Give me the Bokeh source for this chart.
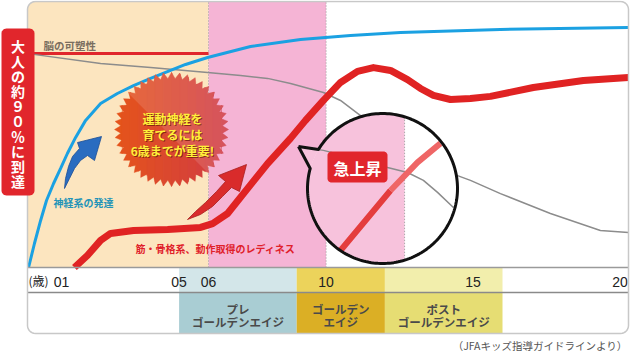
import numpy as np
from bokeh.plotting import figure
from bokeh.models import Range1d
from bokeh.core.properties import value
from bokeh.embed import file_html
from bokeh.resources import INLINE

# ---------------- data ----------------
# x: age in years, y: development level (adult level = 100)
neural_age = [-0.12, 0.08, 0.29, 0.49, 0.73, 0.97, 1.20, 1.48, 1.82, 2.33, 2.90, 3.45,
              4.03, 4.54, 5.22, 5.97, 7.43, 9.13, 10.83, 12.53, 15.93, 20.28]
neural_level = [0.0, 10.0, 19.6, 27.9, 35.0, 41.3, 47.5, 54.2, 61.3, 68.3, 72.5, 75.8,
                78.8, 81.3, 84.6, 87.5, 92.1, 95.0, 96.7, 97.9, 99.2, 100.0]

plasticity_age = [0.05, 2.33, 4.03, 5.97, 7.09, 8.01, 8.79, 9.91, 10.49, 11.07, 11.85,
                  12.87, 13.72, 14.47, 14.91, 15.93, 17.63, 19.33, 20.28]
plasticity_level = [88.8, 85.0, 83.3, 81.3, 80.0, 78.8, 76.7, 72.9, 69.6, 64.2, 57.1,
                    48.8, 42.5, 38.3, 36.3, 30.8, 22.5, 15.4, 14.6]

readiness_age = [1.44, 1.88, 2.33, 2.67, 3.45, 4.61, 5.73, 6.14, 6.65, 7.19, 8.01, 8.79,
                 9.30, 9.91, 10.49, 11.07, 11.61, 12.19, 12.77, 13.21, 13.65, 14.23,
                 14.91, 15.59, 17.05, 18.75, 20.28]
readiness_level = [0.0, 5.0, 11.3, 14.2, 15.4, 15.8, 16.7, 18.3, 22.5, 30.8, 43.3, 53.8,
                   61.3, 69.6, 77.1, 81.7, 83.3, 82.1, 78.3, 74.6, 71.7, 70.0,
                   70.4, 71.3, 75.0, 77.9, 79.2]

brain_ref_age = [-0.16, 6.0]
brain_ref_level = [89.2, 89.2]

# magnified view inside the bubble
zoom_red_low_age = [10.49, 11.34, 12.19]
zoom_red_low_level = [7.1, 19.6, 32.1]
zoom_red_high_age = [12.19, 13.11, 13.89]
zoom_red_high_level = [32.1, 43.8, 51.7]
zoom_gray_age = [9.23, 9.91, 11.00, 12.09, 12.77, 13.31, 13.79, 14.33]
zoom_gray_level = [50.0, 48.8, 45.4, 41.7, 39.6, 36.3, 31.3, 25.0]
zoom_divider_age = 12.67

tick_values = [1, 5, 6, 10, 15, 20]
tick_labels = ["01", "05", "06", "10", "15", "20"]

band_start = [-0.16, 6]
band_end = [6, 10]
band_colors = ["#FCE5BF", "#F5B4D5"]

phase_start = [5, 9, 12]
phase_end = [9, 12, 16]
phase_top_colors = ["#D3E6E9", "#ECD35B", "#F2EEAC"]
phase_colors = ["#A9CDD3", "#DBAF25", "#E6DD73"]
phase_line1 = ["プレ", "ゴールデン", "ポスト"]
phase_line2 = ["ゴールデンエイジ", "エイジ", "ゴールデンエイジ"]

# ---------------- scales ----------------
W, H = 630, 354
PX_YEAR = 29.4
PX_LEVEL = 2.4
X_PX0 = 31.6
Y_PX0 = 267.0
X0, X1 = -X_PX0 / PX_YEAR, (W - X_PX0) / PX_YEAR
Y0, Y1 = (Y_PX0 - H) / PX_LEVEL, Y_PX0 / PX_LEVEL


def dx(px):
    return [float(v) for v in (np.atleast_1d(np.asarray(px, float)) - X_PX0) / PX_YEAR]


def dy(py):
    return [float(v) for v in (Y_PX0 - np.atleast_1d(np.asarray(py, float))) / PX_LEVEL]


def sx(x):
    return X_PX0 + float(x) * PX_YEAR


def clip(px_, py_, a, b, c):
    ox, oy = [], []
    n = len(px_)
    for i in range(n):
        x1, y1 = px_[i - 1], py_[i - 1]
        x2, y2 = px_[i], py_[i]
        f1 = a * x1 + b * y1 + c
        f2 = a * x2 + b * y2 + c
        if f2 >= 0:
            if f1 < 0:
                t = f1 / (f1 - f2)
                ox.append(x1 + t * (x2 - x1)); oy.append(y1 + t * (y2 - y1))
            ox.append(x2); oy.append(y2)
        elif f1 >= 0:
            t = f1 / (f1 - f2)
            ox.append(x1 + t * (x2 - x1)); oy.append(y1 + t * (y2 - y1))
    return ox, oy


def rrect(x0, y0, x1, y1, r, corners=(1, 1, 1, 1)):
    xs, ys = [], []
    specs = [((x0 + r, y0 + r), np.pi, (x0, y0)),
             ((x1 - r, y0 + r), 1.5 * np.pi, (x1, y0)),
             ((x1 - r, y1 - r), 0.0, (x1, y1)),
             ((x0 + r, y1 - r), 0.5 * np.pi, (x0, y1))]
    for k, (c, a0, pt) in enumerate(specs):
        if corners[k]:
            a = np.linspace(a0, a0 + np.pi / 2, 8)
            xs += list(c[0] + r * np.cos(a)); ys += list(c[1] + r * np.sin(a))
        else:
            xs.append(pt[0]); ys.append(pt[1])
    return xs, ys


JP = "Noto Sans CJK JP"

p = figure(width=W, height=H, x_range=Range1d(X0, X1), y_range=Range1d(Y0, Y1),
           output_backend="svg", toolbar_location=None, x_axis_type=None, y_axis_type=None,
           min_border=0, outline_line_color=None, title=None,
           background_fill_color="white", border_fill_color="white")


def txt(x, y, s, size, color, align="center", bold=True, font=JP, alpha=1.0):
    p.text(x=[x], y=[y], text=[s], text_font=value(font), text_font_size=f"{size}px",
           text_color=color, text_align=align, text_baseline="middle",
           text_font_style="bold" if bold else "normal", text_alpha=alpha)


LEFT, RIGHT = dx(27)[0], dx(628)[0]
TOP = dy(1)[0]
AXIS_MID = dy(292)[0]
PANEL_BOT = dy(333)[0]

# ---------------- background bands ----------------
bx, by = rrect(sx(band_start[0]), 1, sx(band_end[0]), Y_PX0, 8, corners=(1, 0, 0, 0))
p.patch(dx(bx), dy(by), fill_color=band_colors[0], line_color=None)
p.quad(left=band_start[1:], right=band_end[1:], bottom=0, top=TOP,
       fill_color=band_colors[1], line_color=None)
for xv in band_end:
    p.line([xv, xv], [0, TOP], line_color="#9A9A9A", line_width=1, line_dash="1 2")

# ---------------- curves ----------------
p.line(brain_ref_age, brain_ref_level, line_color="#E0262C", line_width=3)
p.line(plasticity_age, plasticity_level, line_color="#8C8C8C", line_width=1.5)
p.line(neural_age, neural_level, line_color="#1BA1E2", line_width=3)
p.line(readiness_age, readiness_level, line_color="#E02323", line_width=7,
       line_join="round")

# ---------------- starburst ----------------
scx, scy, R1, R2, NT = 171.0, 129.0, 57.0, 51.0, 44
ang = np.linspace(0, 2 * np.pi, 2 * NT, endpoint=False) - np.pi / 2
rad = np.where(np.arange(2 * NT) % 2 == 0, R1, R2)
star_x = [float(v) for v in scx + rad * np.cos(ang)]
star_y = [float(v) for v in scy + rad * np.sin(ang)]
c_left = np.array([0xE6, 0x55, 0x1A])
c_right = np.array([0xD0, 0x3A, 0x46])
nsl = 14
edges = np.linspace(scx - R1 - 1, scx + R1 + 1, nsl + 1)
for i in range(nsl):
    ax_, ay_ = clip(star_x, star_y, 1, 0, -edges[i])
    ax_, ay_ = clip(ax_, ay_, -1, 0, edges[i + 1] + 0.6)
    col = c_left + (c_right - c_left) * (i + 0.5) / nsl
    hx = "#%02X%02X%02X" % tuple(int(v) for v in col)
    if len(ax_) > 2:
        p.patch(dx(ax_), dy(ay_), fill_color=hx, line_color=hx, line_width=0.4)
hx_, hy_ = clip(star_x, star_y, 1, -1, -scx + scy + 7)
p.patch(dx(hx_), dy(hy_), fill_color="white", fill_alpha=0.13, line_color=None)

for s, py_ in zip(["運動神経を", "育てるには", "6歳までが重要!"], [118, 134, 150]):
    txt(dx(173)[0], dy(py_ + 1)[0], s, 12, "#6E1A08", alpha=0.75)
    txt(dx(172)[0], dy(py_)[0], s, 12, "#FFF03A")

# ---------------- arrows ----------------
blue_ax = [64, 65, 68, 72, 79, 77, 101, 94, 87, 80, 74, 69]
blue_ay = [188, 178, 166, 156, 148, 142, 136, 160, 155, 160, 168, 178]
p.patch(dx(blue_ax), dy(blue_ay), fill_color="#2A6CC0", line_color="#1D4F96", line_width=0.8)
red_ax = [187, 200, 212, 222, 231, 239, 246, 218, 225, 216, 205, 195]
red_ay = [219, 214, 206, 196, 187, 191, 164, 175, 181, 191, 202, 211]
p.patch(dx(red_ax), dy(red_ay), fill_color="#D92B2B", line_color="#A81E1E", line_width=0.8)

# ---------------- curve labels ----------------
txt(dx(43)[0], dy(45)[0], "脳の可塑性", 10.5, "#7A6E60", align="left")
txt(dx(53)[0], dy(202)[0], "神経系の発達", 10, "#2494B8", align="left")
txt(dx(135)[0], dy(248)[0], "筋・骨格系、動作取得のレディネス", 10, "#E0202A", align="left")

# ---------------- magnifier bubble ----------------
mcx, mcy, mr = 382.0, 188.0, 75.0
th = np.linspace(0, 2 * np.pi, 181)
cxs = [float(v) for v in mcx + mr * np.cos(th)]
cys = [float(v) for v in mcy + mr * np.sin(th)]
p.patch(dx(cxs), dy(cys), fill_color="white", line_color=None)
div_px = sx(zoom_divider_age)
kx, ky = clip(cxs, cys, -1, 0, div_px)
p.patch(dx(kx), dy(ky), fill_color="#F7C2DC", line_color=None)
th_up = np.pi + np.arcsin((mcy - 149) / mr)
th_lo = np.pi + np.arcsin((mcy - 168) / mr)
tip = (298.0, 146.0)
ta = np.linspace(th_lo, th_up, 10)
tx = [tip[0]] + list(mcx + mr * np.cos(ta))
ty = [tip[1]] + list(mcy + mr * np.sin(ta))
p.patch(dx(tx), dy(ty), fill_color="#F7C2DC", line_color=None)
hh = float(np.sqrt(mr ** 2 - (div_px - mcx) ** 2))
p.line(dx([div_px, div_px]), dy([mcy - hh, mcy + hh]), line_color="#9A9A9A",
       line_width=1, line_dash="1 2")
p.line(zoom_gray_age, zoom_gray_level, line_color="#8C8C8C", line_width=1.5)
p.line(zoom_red_low_age, zoom_red_low_level, line_color="#E43D3D", line_width=6)
p.line(zoom_red_high_age, zoom_red_high_level, line_color="#EF6666", line_width=6)
oa = np.linspace(th_up, th_lo + 2 * np.pi, 200)
ox = [tip[0]] + list(mcx + mr * np.cos(oa)) + [tip[0]]
oy = [tip[1]] + list(mcy + mr * np.sin(oa)) + [tip[1]]
p.line(dx(ox), dy(oy), line_color="#111111", line_width=3, line_join="round")

lx, ly = rrect(327, 151, 387, 182, 4)
p.patch(dx(lx), dy(ly), fill_color="#E1262C", line_color=None)
txt(dx(357)[0], dy(167)[0], "急上昇", 16, "white")

# ---------------- age axis row + phases ----------------
p.quad(left=phase_start, right=phase_end, bottom=AXIS_MID, top=0,
       fill_color=phase_top_colors, line_color=None)
p.quad(left=phase_start, right=phase_end, bottom=PANEL_BOT, top=AXIS_MID,
       fill_color=phase_colors, line_color=None)
p.line([LEFT, RIGHT], [0, 0], line_color="#9A9A9A", line_width=1.5)
p.line([LEFT, RIGHT], [AXIS_MID, AXIS_MID], line_color="#8A8A8A", line_width=1.5)

p.text(x=tick_values, y=[dy(281)[0]] * len(tick_values), text=tick_labels,
       text_font=value("Liberation Sans"), text_font_size="14px", text_color="#222222",
       text_align="center", text_baseline="middle")
txt(dx(28)[0], dy(280)[0], "(歳)", 12, "#222222", align="left", bold=False)

for s0, s1, l1, l2 in zip(phase_start, phase_end, phase_line1, phase_line2):
    xm = (s0 + s1) / 2
    txt(xm, dy(308)[0], l1, 11.5, "#4A4A4A")
    txt(xm, dy(321)[0], l2, 11.5, "#4A4A4A")

# ---------------- frame, side label, source ----------------
fx, fy = rrect(27, 1, 628, 333, 8)
p.patch(dx(fx), dy(fy), fill_alpha=0, line_color="#C8C8C8", line_width=1.5)

rx, ry = rrect(1, 28, 34, 195, 5)
p.patch(dx(rx), dy(ry), fill_color="#E1262C", line_color=None)
side = "大人の約９０％に到達"
for i, ch in enumerate(side):
    txt(dx(17.5)[0], dy(45 + i * 15)[0], ch, 14, "white")

txt(dx(627)[0], dy(345)[0], "（JFAキッズ指導ガイドラインより）", 10.5, "#555555",
    align="right", bold=False)

open("out.html", "w").write(file_html(p, INLINE))
